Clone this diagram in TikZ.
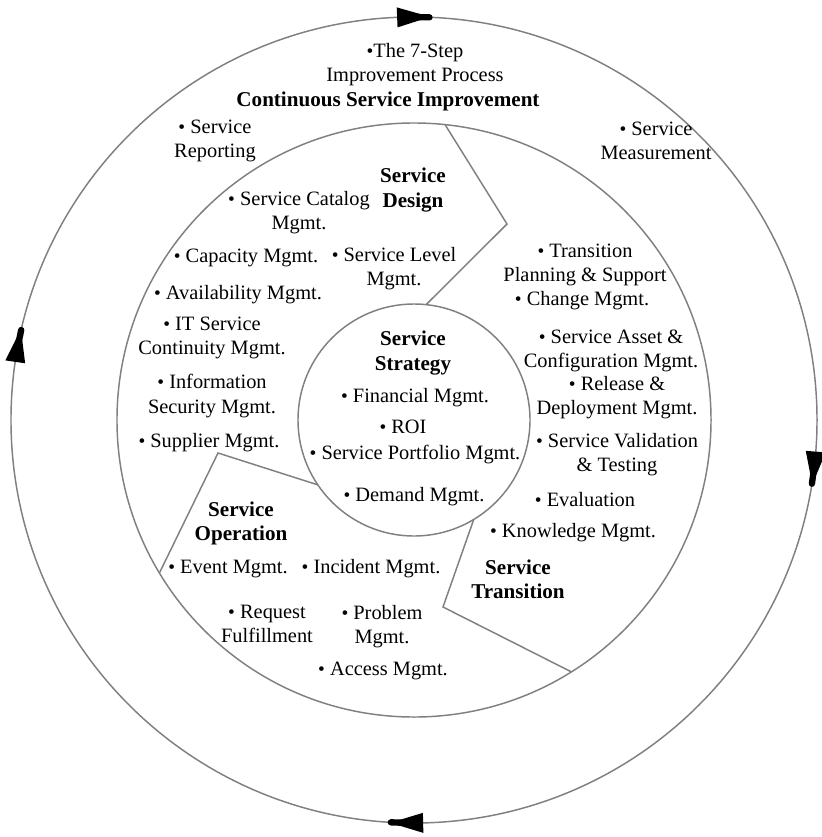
\documentclass[tikz,border=0pt]{standalone}
\usepackage{fontspec}
\setmainfont{Liberation Serif}
\usetikzlibrary{calc}

\definecolor{linegray}{gray}{0.5}
% small bullet used in front of every item
\newcommand{\bulx}{\scalebox{0.95}{\textbullet}}
\newcommand{\bul}{\bulx\ }

\tikzset{
  ringline/.style={draw=linegray, line width=1.25pt},
  ringnode/.style={circle, ringline, inner sep=0pt, outer sep=0pt},
  item/.style={align=center, inner sep=0pt, text=black,
    font=\fontsize{17.4}{20.6}\selectfont},
  phase/.style={item, font=\fontsize{18}{20.6}\selectfont\bfseries},
  tipfill/.style={fill=black},
  tipneck/.style={draw=black, line width=0.19cm, line cap=round},
}

\begin{document}
\begin{tikzpicture}[x=0.03cm, y=-0.03cm]
\useasboundingbox (0,0) rectangle (822,837);
\fill[white] (0,0) rectangle (822,837);

% the three concentric rings
\node[ringnode, minimum size=24.18cm] (outer) at (414,420) {};
\node[ringnode, minimum size=17.82cm] (mid)   at (414,420) {};
\node[ringnode, minimum size=6.96cm]  (inner) at (414,420) {};

% bends of the three dividing lines
\coordinate (dtv) at (507,224);
\coordinate (odv) at (218,453);
\coordinate (tov) at (443,607);

\draw[ringline] (mid.84.4) -- (dtv) -- (inner.84.5);
\draw[ringline] (inner.214.25) -- (odv) -- (mid.211.1);
\draw[ringline] (inner.301.9) -- (tov) -- (mid.302.5);

% clockwise arrowheads on the outer ring
\begin{scope}[shift={(414,420)}]
  \foreach \a in {92.4,355.5,271.3,171.7}{
    \fill[tipfill] (-\a:413) -- (-\a+3.3:406) -- (-\a+3.3:400)
      -- (-\a:393) -- cycle;
    \draw[tipneck] (-\a+2:403) -- (-\a+4.6:403);
  }
\end{scope}

% Continual service improvement
\node[item] (sevenstep) at (415,65) {\bulx The 7-Step\\Improvement Process};
\node[phase] (csi) at (388,101) {Continuous Service Improvement};
\node[item] (srep) at (215,141) {\bul Service\\Reporting};
\node[item] (smeas) at (656,141) {\bul Service\\Measurement};

% Service design
\node[phase] (sdesign) at (413,190) {Service\\Design};
\node[item] (scat) at (299,213) {\bul Service Catalog\\Mgmt.};
\node[item] (capm) at (246,258) {\bul Capacity Mgmt.};
\node[item] (slm) at (394,269) {\bul Service Level\\Mgmt.};
\node[item] (avail) at (238,295) {\bul Availability Mgmt.};
\node[item] (itsc) at (212,338) {\bul IT Service\\Continuity Mgmt.};
\node[item] (infosec) at (212,396) {\bul Information\\Security Mgmt.};
\node[item] (supp) at (209,443) {\bul Supplier Mgmt.};

% Service transition
\node[item] (tps) at (585,265) {\bul Transition\\Planning \& Support};
\node[item] (chg) at (582,301) {\bul Change Mgmt.};
\node[item] (sacm) at (611,351) {\bul Service Asset \&\\Configuration Mgmt.};
\node[item] (rel) at (617,398) {\bul Release \&\\Deployment Mgmt.};
\node[item] (sval) at (617,455) {\bul Service Validation\\\& Testing};
\node[item] (evalu) at (585,500) {\bul Evaluation};
\node[item] (know) at (573,533) {\bul Knowledge Mgmt.};
\node[phase] (strans) at (518,579) {Service\\Transition};

% Service operation
\node[phase] (sop) at (241,523) {Service\\Operation};
\node[item] (event) at (228,569) {\bul Event Mgmt.};
\node[item] (incid) at (371,569) {\bul Incident Mgmt.};
\node[item] (req) at (267,624) {\bul Request\\Fulfillment};
\node[item] (prob) at (382,627) {\bul Problem\\Mgmt.};
\node[item] (access) at (383,671) {\bul Access Mgmt.};

% Service strategy
\node[phase] (sstrat) at (413,353) {Service\\Strategy};
\node[item] (fin) at (415,398) {\bul Financial Mgmt.};
\node[item] (roi) at (403,427) {\bul ROI};
\node[item] (sport) at (415,455) {\bul Service Portfolio Mgmt.};
\node[item] (demand) at (414,497) {\bul Demand Mgmt.};
\end{tikzpicture}
\end{document}
